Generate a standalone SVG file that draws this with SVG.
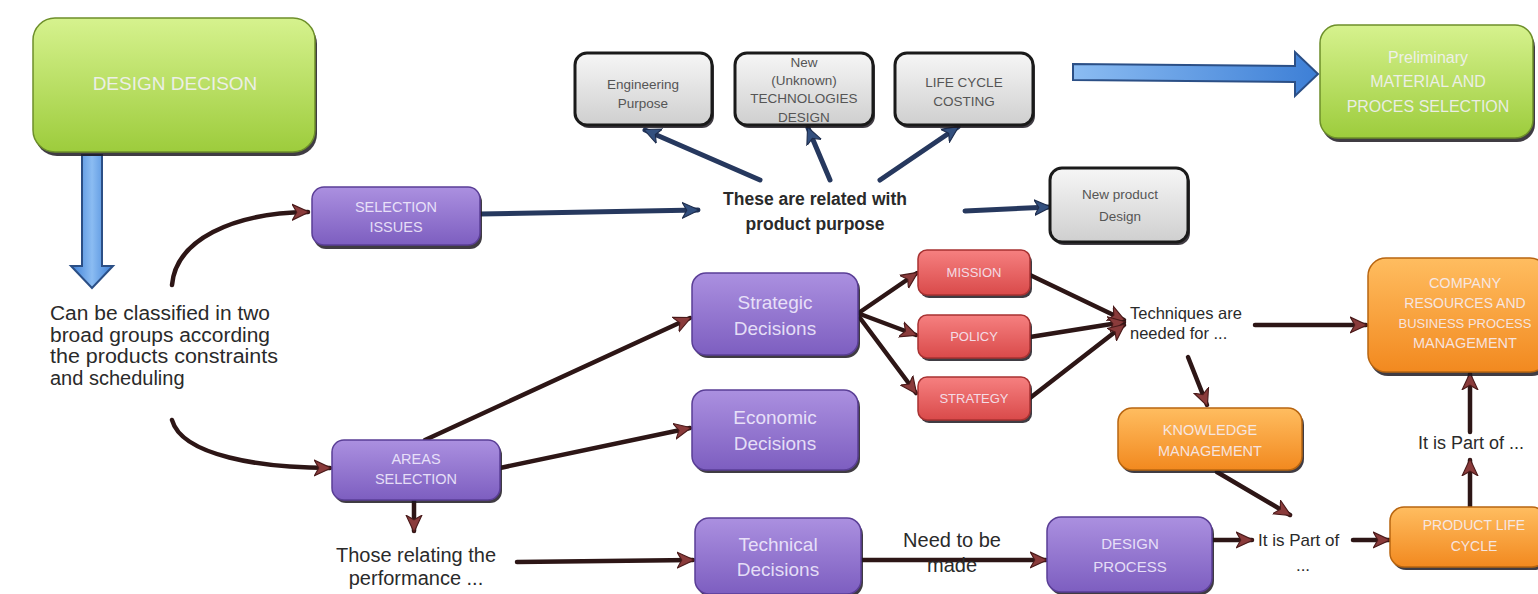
<svg xmlns="http://www.w3.org/2000/svg" width="1538" height="594" viewBox="0 0 1538 594">
<style>
text{font-family:"Liberation Sans",Arial,sans-serif;dominant-baseline:central}
.wt{fill:#f6f2ff;fill-opacity:0.85;text-anchor:middle}
.gt{fill:#555;text-anchor:middle;font-size:13.5px}
.dt{fill:#2a2a2a}
.sh{fill:#1e1a22;opacity:0.85}
.con{fill:none;stroke:#2d1616;stroke-width:4.5;stroke-linecap:round}
.nav{fill:none;stroke:#26385e;stroke-width:5;stroke-linecap:round}
.big{stroke:#2b4f86;stroke-width:2;fill:url(#gBlue)}
</style>
<defs>
<linearGradient id="gGreen" x1="0" y1="0" x2="0" y2="1"><stop offset="0" stop-color="#d6f28e"/><stop offset="1" stop-color="#9dcc3c"/></linearGradient>
<linearGradient id="gPurple" x1="0" y1="0" x2="0" y2="1"><stop offset="0" stop-color="#ab90e0"/><stop offset="1" stop-color="#7d5ec0"/></linearGradient>
<linearGradient id="gRed" x1="0" y1="0" x2="0" y2="1"><stop offset="0" stop-color="#f68080"/><stop offset="1" stop-color="#d94a4a"/></linearGradient>
<linearGradient id="gOrange" x1="0" y1="0" x2="0" y2="1"><stop offset="0" stop-color="#ffbd60"/><stop offset="1" stop-color="#f2891f"/></linearGradient>
<linearGradient id="gGray" x1="0" y1="0" x2="0" y2="1"><stop offset="0" stop-color="#f6f6f6"/><stop offset="1" stop-color="#cfcfcf"/></linearGradient>
<linearGradient id="gBlue" x1="0" y1="0" x2="1" y2="0"><stop offset="0" stop-color="#8bbcf2"/><stop offset="1" stop-color="#3d7fd6"/></linearGradient>
<linearGradient id="gBlueV" x1="0" y1="0" x2="1" y2="0"><stop offset="0" stop-color="#3d7fd6"/><stop offset="0.5" stop-color="#8bbcf2"/><stop offset="1" stop-color="#3d7fd6"/></linearGradient>
<marker id="ah" markerUnits="userSpaceOnUse" markerWidth="18" markerHeight="18" refX="14" refY="8" orient="auto" viewBox="0 0 16 16">
<path d="M0,1 L15,8 L0,15 L4,8 z" fill="#8a3b3b" stroke="#4a1a1a" stroke-width="1"/>
</marker>
<marker id="nh" markerUnits="userSpaceOnUse" markerWidth="18" markerHeight="18" refX="14" refY="8" orient="auto" viewBox="0 0 16 16">
<path d="M0,1 L15,8 L0,15 L4,8 z" fill="#33507f" stroke="#1d2c4c" stroke-width="1"/>
</marker>
</defs>
<rect width="1538" height="594" fill="#ffffff"/>

<g id="connectors">
<polygon class="big" style="fill:url(#gBlueV)" points="82,155 102,155 102,266 113,266 92,288 71,266 82,266"/>
<polygon class="big" points="1073,64 1295,66 1295,52 1318,74 1295,96 1295,82 1073,80"/>
<path class="con" d="M172,285 C176,240 232,213 308,212" marker-end="url(#ah)"/>
<path class="con" d="M172,420 C182,456 262,468 330,468" marker-end="url(#ah)"/>
<path class="nav" d="M480,214 L698,210" marker-end="url(#nh)"/>
<path class="nav" d="M760,180 L645,130" marker-end="url(#nh)"/>
<path class="nav" d="M830,180 L808,128" marker-end="url(#nh)"/>
<path class="nav" d="M880,180 L958,127" marker-end="url(#nh)"/>
<path class="nav" d="M965,211 L1050,207" marker-end="url(#nh)"/>
<path class="con" d="M425,440 L690,318" marker-end="url(#ah)"/>
<path class="con" d="M500,468 L690,428" marker-end="url(#ah)"/>
<path class="con" d="M414,500 L414,531" marker-end="url(#ah)"/>
<path class="con" d="M517,562 L693,560" marker-end="url(#ah)"/>
<path class="con" d="M860,312 L917,273" marker-end="url(#ah)"/>
<path class="con" d="M860,314 L916,335" marker-end="url(#ah)"/>
<path class="con" d="M860,318 L916,393" marker-end="url(#ah)"/>
<path class="con" d="M1030,275 L1124,320" marker-end="url(#ah)"/>
<path class="con" d="M1030,337 L1124,322" marker-end="url(#ah)"/>
<path class="con" d="M1030,398 L1124,325" marker-end="url(#ah)"/>
<path class="con" d="M1255,325 L1366,325" marker-end="url(#ah)"/>
<path class="con" d="M1188,357 L1207,405" marker-end="url(#ah)"/>
<path class="con" d="M1217,472 L1290,515" marker-end="url(#ah)"/>
<path class="con" d="M858,560 L1046,560" marker-end="url(#ah)"/>
<path class="con" d="M1213,540 L1252,540" marker-end="url(#ah)"/>
<path class="con" d="M1353,540 L1389,540" marker-end="url(#ah)"/>
<path class="con" d="M1470,507 L1470,460" marker-end="url(#ah)"/>
<path class="con" d="M1470,432 L1470,374" marker-end="url(#ah)"/>
</g>

<g id="design-decision">
<rect class="sh" x="35" y="22" width="282" height="134" rx="22"/>
<rect x="33" y="18" width="282" height="134" rx="22" fill="url(#gGreen)" stroke="#6d8f2a" stroke-width="1.5"/>
<text class="wt" x="175" y="83" font-size="19">DESIGN DECISON</text>
</g>

<g id="classified-text">
<text class="dt" x="50" y="313" font-size="20" textLength="220" lengthAdjust="spacingAndGlyphs">Can be classified in two</text>
<text class="dt" x="50" y="334.5" font-size="20" textLength="220" lengthAdjust="spacingAndGlyphs">broad groups according</text>
<text class="dt" x="50" y="356" font-size="20" textLength="228" lengthAdjust="spacingAndGlyphs">the products constraints</text>
<text class="dt" x="50" y="377.5" font-size="20">and scheduling</text>
</g>

<g id="selection-issues">
<rect class="sh" x="314" y="190" width="168" height="59" rx="12"/>
<rect x="312" y="187" width="168" height="58" rx="12" fill="url(#gPurple)" stroke="#5a3e96" stroke-width="1.5"/>
<text class="wt" x="396" y="207" font-size="14.5">SELECTION</text>
<text class="wt" x="396" y="227" font-size="14.5">ISSUES</text>
</g>

<g id="related-text">
<text class="dt" x="815" y="199" font-size="17.5" font-weight="bold" text-anchor="middle">These are related with</text>
<text class="dt" x="815" y="224" font-size="17.5" font-weight="bold" text-anchor="middle">product purpose</text>
</g>

<g id="engineering-purpose">
<rect class="sh" x="577" y="56" width="137" height="72" rx="12"/>
<rect x="575" y="53" width="137" height="72" rx="12" fill="url(#gGray)" stroke="#1a1a1a" stroke-width="3"/>
<text class="gt" x="643" y="84">Engineering</text>
<text class="gt" x="643" y="103">Purpose</text>
</g>

<g id="new-technologies">
<rect class="sh" x="737" y="56" width="138" height="72" rx="12"/>
<rect x="735" y="53" width="138" height="72" rx="12" fill="url(#gGray)" stroke="#1a1a1a" stroke-width="3"/>
<text class="gt" x="804" y="62" font-size="11.5">New</text>
<text class="gt" x="804" y="80" font-size="12">(Unknown)</text>
<text class="gt" x="804" y="98" font-size="12.5">TECHNOLOGIES</text>
<text class="gt" x="804" y="117" font-size="12">DESIGN</text>
</g>

<g id="life-cycle-costing">
<rect class="sh" x="897" y="56" width="138" height="72" rx="12"/>
<rect x="895" y="53" width="138" height="72" rx="12" fill="url(#gGray)" stroke="#1a1a1a" stroke-width="3"/>
<text class="gt" x="964" y="82">LIFE CYCLE</text>
<text class="gt" x="964" y="101">COSTING</text>
</g>

<g id="preliminary">
<rect class="sh" x="1322" y="29" width="213" height="113" rx="18"/>
<rect x="1320" y="25" width="213" height="113" rx="18" fill="url(#gGreen)" stroke="#6d8f2a" stroke-width="1.5"/>
<text class="wt" x="1428" y="57" font-size="16">Preliminary</text>
<text class="wt" x="1428" y="81" font-size="16">MATERIAL AND</text>
<text class="wt" x="1428" y="106" font-size="16">PROCES SELECTION</text>
</g>

<g id="new-product-design">
<rect class="sh" x="1052" y="171" width="138" height="74" rx="12"/>
<rect x="1050" y="168" width="138" height="74" rx="12" fill="url(#gGray)" stroke="#1a1a1a" stroke-width="3"/>
<text class="gt" x="1120" y="194" font-size="14">New product</text>
<text class="gt" x="1120" y="216" font-size="14">Design</text>
</g>

<g id="strategic-decisions">
<rect class="sh" x="694" y="276" width="166" height="82" rx="14"/>
<rect x="692" y="273" width="166" height="82" rx="14" fill="url(#gPurple)" stroke="#5a3e96" stroke-width="1.5"/>
<text class="wt" x="775" y="302" font-size="19">Strategic</text>
<text class="wt" x="775" y="328" font-size="19">Decisions</text>
</g>

<g id="mission">
<rect class="sh" x="920" y="253" width="112" height="45" rx="9"/>
<rect x="918" y="250" width="112" height="45" rx="9" fill="url(#gRed)" stroke="#a83232" stroke-width="1.5"/>
<text class="wt" x="974" y="272" font-size="13">MISSION</text>
</g>

<g id="policy">
<rect class="sh" x="920" y="318" width="112" height="43" rx="9"/>
<rect x="918" y="315" width="112" height="43" rx="9" fill="url(#gRed)" stroke="#a83232" stroke-width="1.5"/>
<text class="wt" x="974" y="336" font-size="13">POLICY</text>
</g>

<g id="strategy">
<rect class="sh" x="920" y="380" width="112" height="43" rx="9"/>
<rect x="918" y="377" width="112" height="43" rx="9" fill="url(#gRed)" stroke="#a83232" stroke-width="1.5"/>
<text class="wt" x="974" y="398" font-size="13">STRATEGY</text>
</g>

<g id="techniques-text">
<text class="dt" x="1130" y="313" font-size="16.5">Techniques are</text>
<text class="dt" x="1130" y="333" font-size="16.5">needed for ...</text>
</g>

<g id="company-resources">
<rect class="sh" x="1370" y="262" width="180" height="114" rx="18"/>
<rect x="1368" y="258" width="180" height="114" rx="18" fill="url(#gOrange)" stroke="#b86510" stroke-width="1.5"/>
<text class="wt" x="1465" y="283" font-size="14.5">COMPANY</text>
<text class="wt" x="1465" y="303" font-size="14">RESOURCES AND</text>
<text class="wt" x="1465" y="323" font-size="13">BUSINESS PROCESS</text>
<text class="wt" x="1465" y="343" font-size="14.5">MANAGEMENT</text>
</g>

<g id="knowledge-management">
<rect class="sh" x="1120" y="411" width="184" height="62" rx="14"/>
<rect x="1118" y="408" width="184" height="62" rx="14" fill="url(#gOrange)" stroke="#b86510" stroke-width="1.5"/>
<text class="wt" x="1210" y="430" font-size="14.5">KNOWLEDGE</text>
<text class="wt" x="1210" y="451" font-size="14.5">MANAGEMENT</text>
</g>

<g id="part-of-right">
<text class="dt" x="1471" y="443" font-size="18" text-anchor="middle">It is Part of ...</text>
</g>

<g id="economic-decisions">
<rect class="sh" x="694" y="393" width="166" height="80" rx="14"/>
<rect x="692" y="390" width="166" height="80" rx="14" fill="url(#gPurple)" stroke="#5a3e96" stroke-width="1.5"/>
<text class="wt" x="775" y="417" font-size="19">Economic</text>
<text class="wt" x="775" y="443" font-size="19">Decisions</text>
</g>

<g id="areas-selection">
<rect class="sh" x="334" y="443" width="168" height="60" rx="12"/>
<rect x="332" y="440" width="168" height="60" rx="12" fill="url(#gPurple)" stroke="#5a3e96" stroke-width="1.5"/>
<text class="wt" x="416" y="459" font-size="14.5">AREAS</text>
<text class="wt" x="416" y="479" font-size="14.5">SELECTION</text>
</g>

<g id="those-relating">
<text class="dt" x="416" y="555" font-size="20" text-anchor="middle">Those relating the</text>
<text class="dt" x="416" y="578" font-size="20" text-anchor="middle">performance ...</text>
</g>

<g id="technical-decisions">
<rect class="sh" x="697" y="521" width="166" height="76" rx="14"/>
<rect x="695" y="518" width="166" height="76" rx="14" fill="url(#gPurple)" stroke="#5a3e96" stroke-width="1.5"/>
<text class="wt" x="778" y="544" font-size="19">Technical</text>
<text class="wt" x="778" y="569" font-size="19">Decisions</text>
</g>

<g id="need-text">
<text class="dt" x="952" y="540" font-size="20" text-anchor="middle">Need to be</text>
<text class="dt" x="952" y="565" font-size="20" text-anchor="middle">made</text>
</g>

<g id="design-process">
<rect class="sh" x="1049" y="520" width="165" height="75" rx="14"/>
<rect x="1047" y="517" width="165" height="75" rx="14" fill="url(#gPurple)" stroke="#5a3e96" stroke-width="1.5"/>
<text class="wt" x="1130" y="543" font-size="15">DESIGN</text>
<text class="wt" x="1130" y="566" font-size="15">PROCESS</text>
</g>

<g id="part-of-bottom">
<text class="dt" x="1258" y="540" font-size="17">It is Part of</text>
<text class="dt" x="1303" y="565" font-size="17" text-anchor="middle">...</text>
</g>

<g id="product-life-cycle">
<rect class="sh" x="1392" y="510" width="156" height="60" rx="14"/>
<rect x="1390" y="507" width="156" height="60" rx="14" fill="url(#gOrange)" stroke="#b86510" stroke-width="1.5"/>
<text class="wt" x="1474" y="525" font-size="14">PRODUCT LIFE</text>
<text class="wt" x="1474" y="546" font-size="14">CYCLE</text>
</g>
</svg>
